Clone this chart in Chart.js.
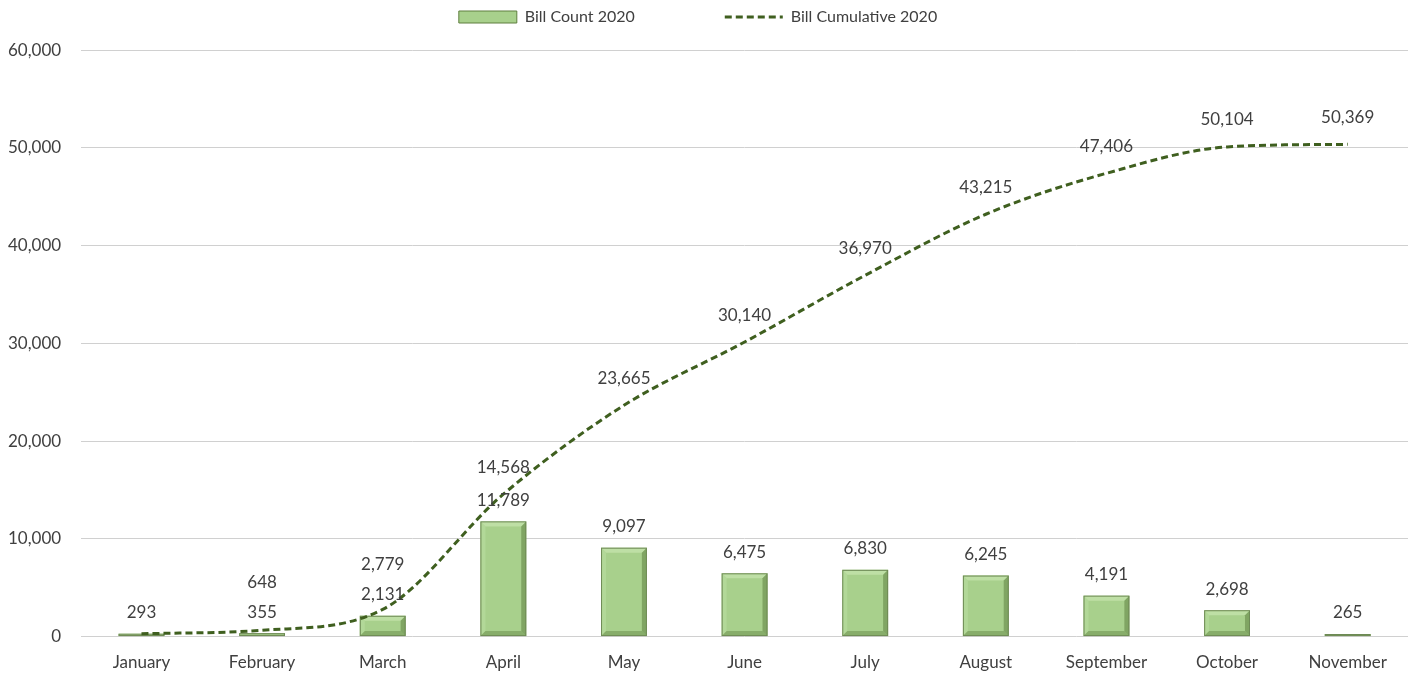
<!DOCTYPE html>
<html>
<head>
<meta charset="utf-8">
<script src="https://cdn.jsdelivr.net/npm/chart.js@4/dist/chart.umd.min.js"></script>
<style>
  html, body { margin: 0; padding: 0; background: #fff; }
  #wrap { width: 1416px; height: 674px; }
</style>
</head>
<body>
<div id="wrap"><canvas id="bills"></canvas></div>
<script>
const months = ['January', 'February', 'March', 'April', 'May', 'June', 'July', 'August', 'September', 'October', 'November'];
const billCount = [293, 355, 2131, 11789, 9097, 6475, 6830, 6245, 4191, 2698, 265];
const billCumulative = [293, 648, 2779, 14568, 23665, 30140, 36970, 43215, 47406, 50104, 50369];
const yTicks = [0, 10000, 20000, 30000, 40000, 50000, 60000];

const fmt = v => v.toLocaleString('en-US');
const textColor = '#404040';
const fontFamily = 'Lato, "Open Sans", sans-serif';
const lineColor = '#3f5f1f';
const lineDash = [7, 4];

// bevel look on the bars, drawn over the bar elements
const bevel = {
  id: 'bevel',
  afterDatasetDraw(chart, args) {
    if (args.index !== 0) return;
    const ctx = chart.ctx;
    args.meta.data.forEach(bar => {
      const l = bar.x - bar.width / 2, r = bar.x + bar.width / 2;
      const t = bar.y, b = bar.base;
      const h = b - t;
      if (h < 1) return;
      const e = Math.min(5, h / 2, bar.width / 4);
      ctx.save();
      ctx.fillStyle = 'rgba(200,230,175,0.7)';
      ctx.beginPath();
      ctx.moveTo(l, t); ctx.lineTo(r, t); ctx.lineTo(r - e, t + e); ctx.lineTo(l + e, t + e);
      ctx.fill();
      ctx.fillStyle = 'rgba(185,222,160,0.6)';
      ctx.beginPath();
      ctx.moveTo(l, t); ctx.lineTo(l + e, t + e); ctx.lineTo(l + e, b - e); ctx.lineTo(l, b);
      ctx.fill();
      ctx.fillStyle = 'rgba(95,130,65,0.55)';
      ctx.beginPath();
      ctx.moveTo(r, t); ctx.lineTo(r, b); ctx.lineTo(r - e, b - e); ctx.lineTo(r - e, t + e);
      ctx.fill();
      ctx.fillStyle = 'rgba(95,130,65,0.45)';
      ctx.beginPath();
      ctx.moveTo(l, b); ctx.lineTo(r, b); ctx.lineTo(r - e, b - e); ctx.lineTo(l + e, b - e);
      ctx.fill();
      ctx.strokeStyle = '#6e8a55';
      ctx.lineWidth = 1;
      ctx.strokeRect(l + 0.5, t + 0.5, bar.width - 1, h - 1);
      ctx.restore();
    });
  }
};

// value labels, line labels pushed up when they would hit the bar label
const valueLabels = {
  id: 'valueLabels',
  afterDatasetsDraw(chart) {
    const ctx = chart.ctx;
    const bars = chart.getDatasetMeta(0).data;
    const pts = chart.getDatasetMeta(1).data;
    ctx.save();
    ctx.font = '17px ' + fontFamily;
    ctx.fillStyle = textColor;
    ctx.textAlign = 'center';
    ctx.textBaseline = 'middle';
    bars.forEach((bar, i) => {
      const barY = bar.y - 21;
      ctx.fillText(fmt(billCount[i]), bar.x, barY);
      if (billCumulative[i] === billCount[i]) return;
      let lineY = pts[i].y - 27;
      if (Math.abs(lineY - barY) < 24) lineY = barY - 30;
      ctx.fillText(fmt(billCumulative[i]), pts[i].x, lineY);
    });
    ctx.restore();
  }
};

new Chart(document.getElementById('bills'), {
  type: 'bar',
  data: {
    labels: months,
    datasets: [
      {
        label: 'Bill Count 2020',
        data: billCount,
        backgroundColor: '#a8d08c',
        borderWidth: 0,
        barPercentage: 0.38,
        categoryPercentage: 1,
        pointStyle: 'rect',
        order: 2
      },
      {
        type: 'line',
        label: 'Bill Cumulative 2020',
        data: billCumulative,
        borderColor: lineColor,
        backgroundColor: lineColor,
        borderWidth: 3,
        borderDash: lineDash,
        cubicInterpolationMode: 'monotone',
        pointRadius: 0,
        pointStyle: 'line',
        fill: false,
        order: 1
      }
    ]
  },
  options: {
    responsive: true,
    maintainAspectRatio: false,
    animation: false,
    layout: { padding: { left: -12, right: 8, top: -81, bottom: -7 } },
    plugins: {
      legend: {
        display: true,
        position: 'top',
        labels: {
          usePointStyle: true,
          pointStyleWidth: 58,
          boxHeight: 12,
          padding: 90,
          color: textColor,
          font: { family: fontFamily, size: 16 },
          sort: (a, b) => a.datasetIndex - b.datasetIndex,
          generateLabels: chart => {
            const items = Chart.defaults.plugins.legend.labels.generateLabels(chart);
            items.forEach(it => {
              if (it.datasetIndex === 0) {
                it.fillStyle = '#a8d08c';
                it.strokeStyle = '#5f7f3f';
                it.lineWidth = 1;
              } else {
                it.strokeStyle = lineColor;
                it.lineWidth = 3;
                it.lineDash = lineDash;
              }
            });
            return items;
          }
        }
      },
      // empty spacer between legend and plot
      title: {
        display: true,
        text: '',
        weight: 500,
        font: { size: 1 },
        padding: { top: 0, bottom: 14 }
      },
      tooltip: { enabled: false }
    },
    scales: {
      x: {
        grid: { display: false },
        border: { display: false },
        ticks: { color: textColor, font: { family: fontFamily, size: 17 }, padding: 8 }
      },
      y: {
        min: 0,
        max: 60000,
        afterBuildTicks: axis => { axis.ticks = yTicks.map(v => ({ value: v })); },
        grid: { color: '#d0d0d0', drawTicks: false },
        border: { display: false },
        ticks: {
          color: textColor,
          font: { family: fontFamily, size: 17 },
          padding: 20,
          callback: v => fmt(v)
        }
      }
    }
  },
  plugins: [bevel, valueLabels]
});
</script>
</body>
</html>
